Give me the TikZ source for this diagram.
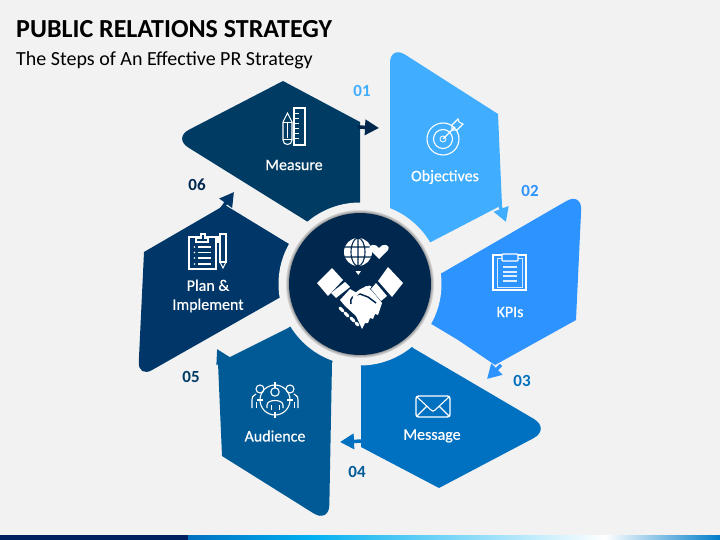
\documentclass[tikz,border=0pt]{standalone}
\usepackage{fontspec}
\setmainfont{Carlito}
\newfontfamily\lblfont[FakeBold=0.5]{Carlito}
\usetikzlibrary{arrows.meta,positioning}
\definecolor{bgcol}{HTML}{F2F2F2}
\definecolor{objcol}{HTML}{41ADFF}
\definecolor{kpicol}{HTML}{2C93FF}
\definecolor{msgcol}{HTML}{0070C0}
\definecolor{audcol}{HTML}{005A96}
\definecolor{plancol}{HTML}{003768}
\definecolor{meascol}{HTML}{003B63}
\definecolor{hubcol}{HTML}{00274D}
\definecolor{barnavy}{HTML}{002060}
\definecolor{barcyan}{HTML}{00B0F0}
\tikzset{
  steplabel/.style={text=white,font=\lblfont\fontsize{16}{19}\selectfont,align=center,inner sep=0pt},
  stepnum/.style={font=\bfseries\fontsize{17}{18}\selectfont,inner sep=0pt},
  steparrow/.style={line width=3.5pt,-{Triangle[length=14pt,width=15pt]}},
  iconline/.style={draw=white,line width=1.1pt,fill=none},
  iconthin/.style={draw=white,line width=0.8pt,fill=none}
}
\begin{document}
\begin{tikzpicture}[x=1pt,y=-1pt]
  \useasboundingbox (0,0) rectangle (720,540);
  \fill[bgcol] (0,0) rectangle (720,540);

  \node[anchor=west,inner sep=0pt,font=\bfseries\fontsize{26}{28}\selectfont] (title) at (16,29) {PUBLIC RELATIONS STRATEGY};
  \node[anchor=west,inner sep=0pt,font=\fontsize{20}{22}\selectfont] (subtitle) at (16,60) {The Steps of An Effective PR Strategy};

  \fill[meascol] (283,81) -- (360,122) -- (360,284) -- (308,222) [rounded corners=18pt] -- (173,138) [sharp corners] -- cycle;
  \fill[objcol] (360,284) -- (390,208) [rounded corners=18pt] -- (390,45) [sharp corners] -- (498,114) -- (502,205) -- (429,243) -- cycle;
  \fill[kpicol] (360,284) -- (442,273) [rounded corners=18pt] -- (582,192) [sharp corners] -- (576,320) -- (495,365) -- (458,340) -- (433,325) -- cycle;
  \fill[msgcol] (360,284) -- (413,348) [rounded corners=20pt] -- (551,429) [sharp corners] -- (439,488) -- (361,447) -- (361,367) -- cycle;
  \fill[audcol] (360,284) -- (332,363) [rounded corners=18pt] -- (329,523) [sharp corners] -- (222,456) -- (218,363) -- (288,328) -- cycle;
  \fill[plancol] (360,284) -- (279,298) [rounded corners=16pt] -- (138,378) [sharp corners] -- (144,252) -- (225,205) -- (289,244) -- cycle;

  \coordinate (a1s) at (358,127);  \coordinate (a1e) at (379,128);
  \coordinate (a2s) at (497,198);  \coordinate (a2e) at (506,222);
  \coordinate (a3s) at (501,365);  \coordinate (a3e) at (487,379);
  \coordinate (a4s) at (363,441);  \coordinate (a4e) at (340,442);
  \coordinate (a5s) at (228,370);  \coordinate (a5e) at (217,349);
  \coordinate (a6s) at (220,211);  \coordinate (a6e) at (234,192);
  \draw[steparrow,hubcol] (a1s) -- (a1e);
  \draw[steparrow,objcol] (a2s) -- (a2e);
  \draw[steparrow,kpicol] (a3s) -- (a3e);
  \draw[steparrow,msgcol] (a4s) -- (a4e);
  \draw[steparrow,audcol] (a5s) -- (a5e);
  \draw[steparrow,plancol] (a6s) -- (a6e);

  \fill[bgcol] (360,284) circle (81.5);
  \foreach \r in {74,73,72}
    \fill[black,opacity=0.12] (360,284) circle (\r);
  \fill[hubcol] (360,284) circle (71);

  \node[steplabel] (measure) at (294,165) {Measure};
  \node[steplabel] (objectives) at (445,177) {Objectives};
  \node[steplabel] (kpis) at (510,312) {KPIs};
  \node[steplabel] (message) at (432,436) {Message};
  \node[steplabel] (audience) at (275,436) {Audience};
  \node[steplabel] (plan) at (208,296) {Plan \&\\Implement};

  \node[stepnum,text=objcol] (n1) at (362,91) {01};
  \node[stepnum,text=kpicol] (n2) at (530,191) {02};
  \node[stepnum,text=msgcol] (n3) at (522,381) {03};
  \node[stepnum,text=audcol] (n4) at (357,472) {04};
  \node[stepnum,text=meascol] (n5) at (191,377) {05};
  \node[stepnum,text=hubcol] (n6) at (197,185) {06};

  % measure icon
  \draw[iconline] (283,122) -- (287.5,113) -- (292,122) -- (292,140) .. controls (292,146) and (283,146) .. (283,140) -- cycle;
  \draw[iconthin] (283,122) -- (292,122) (287.5,122) -- (287.5,138) (283,139) -- (292,139);
  \draw[iconline] (294,108) rectangle (305,145);
  \foreach \y in {113,118,...,140}
    \draw[iconthin] (294,\y) -- (299,\y);

  % objectives icon
  \draw[iconline] (443,139) circle (16);
  \draw[iconline] (443,139) circle (9.5);
  \draw[iconthin] (443,139) circle (3);
  \draw[iconline] (443,139) -- (455,127);
  \draw[iconline] (452,130) -- (452,125) -- (458,119) -- (459,122) -- (463,124) -- (457,130) -- cycle;

  % kpi icon
  \draw[iconline] (493,255) rectangle (526,290);
  \draw[iconthin,white!80!kpicol] (497,258) rectangle (522,287);
  \draw[iconline,fill=kpicol,rounded corners=1pt] (502,254) rectangle (518,261);
  \foreach \y in {267,272,276,281}
    \draw[iconline,white!85!kpicol] (503,\y) -- (517,\y);

  % message icon
  \draw[iconline,line width=1.4pt,rounded corners=2.5pt] (416,396) rectangle (450,417);
  \draw[iconline] (417,397) -- (431,410) .. controls (433,411.5) .. (435,410) -- (449,397);
  \draw[iconline] (417,416) -- (427,406) (449,416) -- (439,406);

  % audience icon
  \draw[iconline] (275,400) circle (15);
  \draw[iconline] (275,382) -- (275,388) (275,412) -- (275,418) (257,400) -- (263,400) (287,400) -- (293,400);
  \draw[iconline] (275,392) circle (4.2);
  \draw[iconline] (267,408) -- (267,405) .. controls (267,399) and (283,399) .. (283,405) -- (283,408);
  \draw[iconthin] (271,405) -- (271,410) (279,405) -- (279,410);
  \draw[iconline] (260,389) circle (4);
  \draw[iconline] (290,389) circle (4);
  \draw[iconline] (252,408) -- (252,400) .. controls (252,397) .. (256,394);
  \draw[iconline] (298,408) -- (298,400) .. controls (298,397) .. (294,394);
  \draw[iconthin] (256,402) -- (256,408) (294,402) -- (294,408);

  % plan icon
  \draw[iconline] (189,237) rectangle (216,269);
  \draw[iconline,fill=plancol] (196,242) -- (196,238) -- (201,238) -- (201,234) -- (205,234) -- (205,238) -- (208,238) -- (208,242) -- cycle;
  \foreach \y in {247,252.5,258,264}{
    \draw[iconline] (198,\y) -- (211,\y);
    \fill[white] (194.5,\y) circle (0.8);
  }
  \draw[iconline] (220,234) rectangle (226,262);
  \draw[iconline] (220,262) -- (223,268) -- (226,262);
  \draw[iconline] (218,236) -- (218,243);

  % hub icon
  \fill[white] (358,252) circle (14);
  \draw[hubcol,line width=1.1pt] (358,238) -- (358,266) (358,252) ellipse (7 and 14) (344,247) -- (372,247) (344,257) -- (372,257);
  \fill[white] (355.5,271) -- (361,271) -- (358.3,275) -- cycle;
  \fill[white] (379,259) -- (370,250) .. controls (367,244) and (376,243) .. (379,248) .. controls (382,243) and (391,244) .. (388,250) -- cycle;
  \fill[white] (332,268) -- (343,280) -- (328,296) -- (317,283) -- cycle;
  \fill[white] (345,282) -- (350,287) -- (336,298) -- (331,293) -- cycle;
  \fill[white] (388,267) -- (403,283) -- (392,297) -- (378,281) -- cycle;
  \fill[white] (376,283) -- (387,296) -- (381,301) -- (371,289) -- cycle;
  \fill[white] (340,300) -- (350,289) -- (357,293) -- (366,286) -- (372,291) -- (382,303) -- (378,315) -- (375,314) -- (373,319) -- (370,318) -- (368,323) -- (365,323) -- (362,329) -- (356,316) -- (345,306) -- cycle;
  \draw[hubcol,line width=1.5pt] (351,304) .. controls (349,298) and (354,295) .. (360,294) -- (368,297) -- (376,303);
  \draw[white,line width=3pt,line cap=round] (354,297) .. controls (358,291) and (363,289) .. (370,287);
  \draw[white,line width=3pt,line cap=round] (340,308) -- (343,311) (345,313) -- (348,316) (351,318) -- (354,321) (356,323) -- (358,325);

  \fill[barnavy] (0,535) rectangle (188,540);
  \shade[left color=msgcol,right color=barcyan] (188,535) rectangle (310,540);
  \shade[left color=barcyan,right color=white] (310,535) rectangle (605,540);
  \shade[left color=white,right color=msgcol!80!barcyan] (605,535) rectangle (720,540);
\end{tikzpicture}
\end{document}
